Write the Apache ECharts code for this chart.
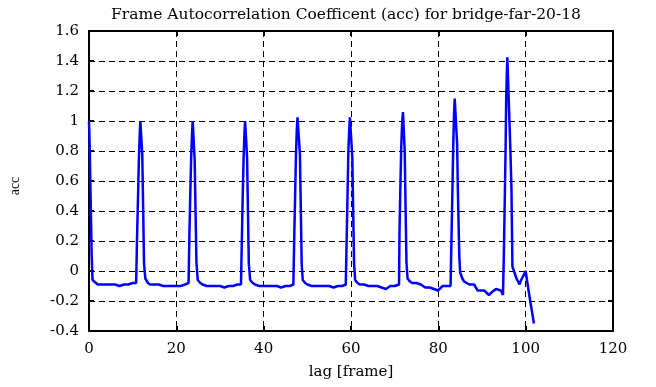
<!DOCTYPE html>
<html>
<head>
<meta charset="utf-8">
<script src="https://cdn.jsdelivr.net/npm/echarts@6/dist/echarts.min.js"></script>
<style>
html,body{margin:0;padding:0;background:#fff;}
#chart{width:656px;height:387px;}
</style>
</head>
<body>
<div id="chart"></div>
<script>
// Data
const lag = [
  0, 0.15, 0.3, 0.45, 0.6, 0.8, 1, 2, 3, 4, 5, 6, 7, 8, 9, 10, 10.8,
  11.0, 11.2, 11.4, 11.6, 11.75, 12.0, 12.2, 12.4, 12.6, 12.9, 13.5, 14, 15, 16, 17, 18, 19, 20, 21, 22, 22.8,
  23.0, 23.2, 23.4, 23.6, 23.75, 24.0, 24.2, 24.4, 24.6, 24.9, 25.5, 26, 27, 28, 29, 30, 31, 32, 33, 34, 34.8,
  35.0, 35.2, 35.4, 35.6, 35.75, 36.0, 36.2, 36.4, 36.6, 36.9, 37.5, 38, 39, 40, 41, 42, 43, 44, 45, 46, 46.8,
  47.0, 47.2, 47.4, 47.6, 47.75, 48.1, 48.3, 48.5, 48.7, 48.95, 49.5, 50, 51, 52, 53, 54, 55, 56, 57, 58, 58.8,
  59.0, 59.2, 59.4, 59.6, 59.75, 60.1, 60.3, 60.5, 60.7, 60.95, 61.5, 62, 63, 64, 65, 66, 67, 68, 69, 70, 71.0,
  71.1, 71.3, 71.5, 71.7, 71.9, 72.1, 72.3, 72.5, 72.7, 72.95, 73.5, 74, 75, 76, 77, 78, 79, 79.9, 81, 82, 82.8,
  83.0, 83.2, 83.4, 83.6, 83.75, 84.1, 84.3, 84.5, 84.8, 85.0, 85.5, 85.9, 87.1, 88.2, 89.0, 89.8, 90.5, 91.6, 92.3, 93.2, 94.3, 94.8,
  95.0, 95.2, 95.4, 95.55, 95.8, 96.2, 96.5, 96.75, 96.97, 97.2, 97.9, 98.6, 98.8, 100.0, 100.4, 101.1, 101.9
];
const acc = [
  1.00, 0.84, 0.60, 0.37, 0.12, -0.06, -0.07, -0.09, -0.09, -0.09, -0.09, -0.09, -0.10, -0.09, -0.09, -0.08, -0.08,
  0.22, 0.46, 0.72, 0.90, 1.00, 1.00, 0.78, 0.42, 0.05, -0.05, -0.08, -0.09, -0.09, -0.09, -0.10, -0.10, -0.10, -0.10, -0.10, -0.09, -0.08,
  0.25, 0.52, 0.76, 0.92, 1.00, 0.99, 0.74, 0.40, 0.06, -0.06, -0.08, -0.09, -0.10, -0.10, -0.10, -0.10, -0.11, -0.10, -0.10, -0.09, -0.09,
  0.20, 0.50, 0.75, 0.92, 1.00, 1.00, 0.76, 0.40, 0.05, -0.06, -0.08, -0.09, -0.10, -0.10, -0.10, -0.10, -0.10, -0.11, -0.10, -0.10, -0.09,
  0.22, 0.50, 0.78, 0.95, 1.025, 1.025, 0.78, 0.42, 0.05, -0.06, -0.08, -0.09, -0.10, -0.10, -0.10, -0.10, -0.10, -0.11, -0.10, -0.10, -0.09,
  0.20, 0.50, 0.80, 0.95, 1.025, 1.02, 0.76, 0.40, 0.05, -0.06, -0.08, -0.09, -0.09, -0.10, -0.10, -0.10, -0.11, -0.12, -0.10, -0.10, -0.09,
  0.25, 0.55, 0.82, 0.98, 1.06, 1.05, 0.80, 0.42, 0.06, -0.05, -0.07, -0.08, -0.08, -0.09, -0.11, -0.11, -0.12, -0.13, -0.10, -0.10, -0.10,
  0.20, 0.50, 0.82, 1.05, 1.15, 1.15, 0.85, 0.50, 0.10, -0.01, -0.05, -0.07, -0.09, -0.09, -0.13, -0.13, -0.13, -0.16, -0.14, -0.12, -0.13, -0.16,
  0.10, 0.45, 0.81, 1.17, 1.425, 1.425, 0.81, 0.54, 0.03, 0.01, -0.05, -0.09, -0.07, 0.00, -0.08, -0.21, -0.35
];
const xTicks = [0, 20, 40, 60, 80, 100, 120];
const yTicks = [-0.4, -0.2, 0, 0.2, 0.4, 0.6, 0.8, 1, 1.2, 1.4, 1.6];
const titleText = 'Frame Autocorrelation Coefficent (acc) for bridge-far-20-18';
const xName = 'lag [frame]';
const yName = 'acc';

const points = lag.map((x, i) => [x, acc[i]]);
const FONT = 'DejaVu Serif';
const txt = { fontFamily: FONT, fontSize: 15, color: '#000' };
const dashed = { color: '#000', type: [6, 4], width: 1 };
const fmt = v => String(Math.round(v * 10) / 10);

const chart = echarts.init(document.getElementById('chart'), null, { renderer: 'canvas' });
chart.setOption({
  animation: false,
  backgroundColor: '#fff',
  title: {
    text: titleText, left: 341, top: 2, textAlign: 'center',
    textStyle: { fontFamily: FONT, fontSize: 15.5, fontWeight: 'normal', color: '#000' }
  },
  grid: { left: 86, right: 43, top: 31, bottom: 56 },
  xAxis: [
    {
      type: 'value', min: xTicks[0], max: xTicks[xTicks.length - 1], interval: 20,
      name: xName, nameLocation: 'middle', nameGap: 34, nameTextStyle: txt,
      axisLine: { onZero: false, lineStyle: { color: '#000', width: 2 } },
      axisTick: { inside: true, length: 5, lineStyle: { color: '#000', width: 2 } },
      axisLabel: { ...txt, margin: 11, formatter: fmt },
      splitLine: { show: true, lineStyle: dashed }
    },
    {
      type: 'value', position: 'top', min: xTicks[0], max: xTicks[xTicks.length - 1], interval: 20,
      axisLine: { onZero: false, lineStyle: { color: '#000', width: 2 } },
      axisTick: { inside: true, length: 5, lineStyle: { color: '#000', width: 2 } },
      axisLabel: { show: false }, splitLine: { show: false }
    }
  ],
  yAxis: [
    {
      type: 'value', min: yTicks[0], max: yTicks[yTicks.length - 1], interval: 0.2,
      name: yName, nameLocation: 'middle', nameGap: 67, nameRotate: 90,
      nameTextStyle: { fontFamily: 'Liberation Serif', fontSize: 14, color: '#000', padding: [0, 10, 0, 0] },
      axisLine: { onZero: false, lineStyle: { color: '#000', width: 2 } },
      axisTick: { inside: true, length: 5, lineStyle: { color: '#000', width: 2 } },
      axisLabel: { ...txt, margin: 10, formatter: fmt },
      splitLine: { show: true, lineStyle: dashed }
    },
    {
      type: 'value', position: 'right', min: yTicks[0], max: yTicks[yTicks.length - 1], interval: 0.2,
      axisLine: { onZero: false, lineStyle: { color: '#000', width: 2 } },
      axisTick: { inside: true, length: 5, lineStyle: { color: '#000', width: 2 } },
      axisLabel: { show: false }, splitLine: { show: false }
    }
  ],
  series: [{
    type: 'line', data: points, xAxisIndex: 0, yAxisIndex: 0,
    showSymbol: false, symbol: 'none',
    lineStyle: { color: '#0000ff', width: 2.5 },
    z: 5
  }]
});
</script>
</body>
</html>
